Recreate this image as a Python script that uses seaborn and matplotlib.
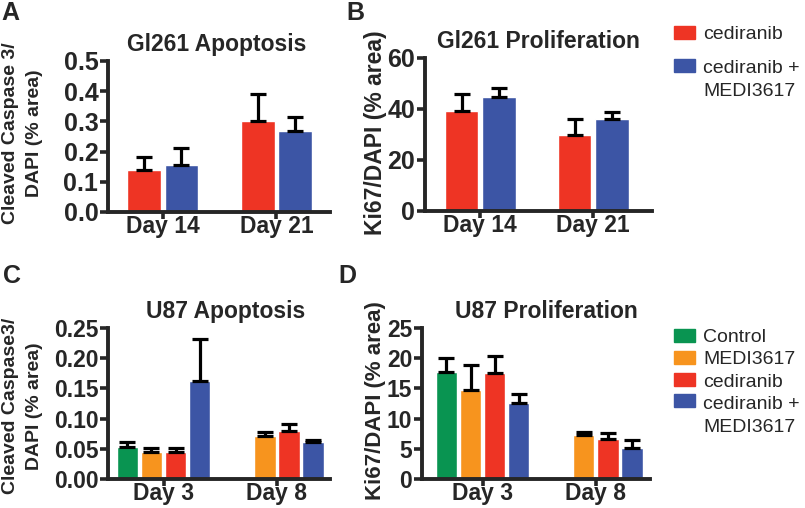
import numpy as np
import pandas as pd
import matplotlib
matplotlib.use('Agg')
import matplotlib.pyplot as plt
import seaborn as sns
from matplotlib.patches import Patch

# ---- data ----
gl_days = ['Day 14', 'Day 21']
gl_groups = ['cediranib', 'cediranib +\nMEDI3617']
gl_apop_mean = [[0.14, 0.30], [0.155, 0.268]]
gl_apop_err = [[0.042, 0.092], [0.058, 0.047]]
gl_prolif_mean = [[39.2, 29.8], [44.7, 36.0]]
gl_prolif_err = [[6.7, 6.2], [3.5, 2.8]]

u87_days = ['Day 3', 'Day 8']
u87_groups = ['Control', 'MEDI3617', 'cediranib', 'cediranib +\nMEDI3617']
# Control has no Day 8 measurement
u87_apop_mean = [[0.053, None], [0.045, 0.0706], [0.045, 0.080], [0.162, 0.0613]]
u87_apop_err = [[0.008, None], [0.006, 0.0075], [0.007, 0.0105], [0.070, 0.0025]]
u87_prolif_mean = [[17.7, None], [14.7, 7.3], [17.6, 6.6], [12.6, 5.2]]
u87_prolif_err = [[2.3, None], [4.1, 0.55], [2.8, 0.95], [1.5, 1.3]]

palette_gl = ['#EE3424', '#3C55A5']
palette_u87 = ['#099451', '#F7941E', '#EE3424', '#3C55A5']

FONT = 'Liberation Sans'


def make_frame(days, groups, means, errs):
    rows = []
    for g, m_row, e_row in zip(groups, means, errs):
        for d, m, e in zip(days, m_row, e_row):
            if m is None:
                continue
            rows.append({'day': d, 'group': g, 'value': m, 'err': e})
    return pd.DataFrame(rows)


def draw_panel(ax, df, days, groups, palette, width, capsize, xlim, ylim, yticks, yfmt,
               title, title_x, ylabel, label_size, label_xy, tick_size):
    sns.barplot(data=df, x='day', y='value', hue='group', order=days,
                hue_order=groups, palette=palette, saturation=1,
                width=width, gap=0.1, legend=False, ax=ax, zorder=2)
    # upper-only error bars on each bar
    for level, cont in zip(groups, ax.containers):
        for bar in cont:
            cx = bar.get_x() + bar.get_width() / 2
            day = days[int(round(cx))]
            row = df[(df.day == day) & (df.group == level)]
            if row.empty:
                continue
            ax.errorbar(cx, row.value.iloc[0], yerr=[[0], [row.err.iloc[0]]],
                        fmt='none', ecolor='black', elinewidth=2.3,
                        capsize=capsize, capthick=2.3, zorder=3)
    ax.set_ylim(*ylim)
    ax.set_yticks(yticks)
    ax.set_yticklabels([yfmt.format(t) for t in yticks])
    ax.set_xlim(*xlim)
    ax.set_xlabel('')
    ax.set_ylabel(ylabel, fontsize=label_size, fontweight='bold', linespacing=1.55)
    ax.yaxis.label.set_va('center')
    ax.yaxis.set_label_coords(*label_xy)
    ax.set_title(title, fontsize=16.5, fontweight='bold', pad=7, x=title_x)
    sns.despine(ax=ax)
    for s in ['left', 'bottom']:
        ax.spines[s].set_linewidth(2.8)
        ax.spines[s].set_zorder(4)
    ax.tick_params(axis='y', length=6, width=2.6, pad=1, labelsize=tick_size)
    ax.tick_params(axis='x', length=5, width=2.6, pad=-3, labelsize=16.5)
    for lab in ax.get_xticklabels() + ax.get_yticklabels():
        lab.set_fontweight('bold')


sns.set_style('ticks')
plt.rcParams['font.family'] = [FONT, 'DejaVu Sans']

W, H = 805, 508
fig = plt.figure(figsize=(W / 100, H / 100), dpi=100)


def axes_px(left, right, top, bottom):
    return fig.add_axes([left / W, 1 - bottom / H, (right - left) / W, (bottom - top) / H])


axA = axes_px(108, 330, 61, 212)
axB = axes_px(425, 652, 58, 211)
axC = axes_px(108, 330, 328, 479)
axD = axes_px(422, 650, 328, 479)

dfA = make_frame(gl_days, gl_groups, gl_apop_mean, gl_apop_err)
dfB = make_frame(gl_days, gl_groups, gl_prolif_mean, gl_prolif_err)
dfC = make_frame(u87_days, u87_groups, u87_apop_mean, u87_apop_err)
dfD = make_frame(u87_days, u87_groups, u87_prolif_mean, u87_prolif_err)

draw_panel(axA, dfA, gl_days, gl_groups, palette_gl, 0.66, 6, (-0.48, 1.47), (0, 0.5),
           [0.0, 0.1, 0.2, 0.3, 0.4, 0.5], '{:.1f}', 'Gl261 Apoptosis', 0.49,
           'Cleaved Caspase 3/\nDAPI (% area)', 14, (-0.385, 0.52), 18)
draw_panel(axB, dfB, gl_days, gl_groups, palette_gl, 0.66, 6, (-0.49, 1.52), (0, 60),
           [0, 20, 40, 60], '{:.0f}', 'Gl261 Proliferation', 0.5,
           'Ki67/DAPI (% area)', 16.5, (-0.216, 0.513), 18)
draw_panel(axC, dfC, u87_days, u87_groups, palette_u87, 0.85, 5.5, (-0.49, 1.47), (0, 0.25),
           [0.0, 0.05, 0.10, 0.15, 0.20, 0.25], '{:.2f}', 'U87 Apoptosis', 0.53,
           'Cleaved Caspase3/\nDAPI (% area)', 14, (-0.385, 0.483), 16.5)
draw_panel(axD, dfD, u87_days, u87_groups, palette_u87, 0.85, 5.5, (-0.535, 1.48), (0, 25),
           [0, 5, 10, 15, 20, 25], '{:.0f}', 'U87 Proliferation', 0.545,
           'Ki67/DAPI (% area)', 16, (-0.202, 0.517), 16.5)

# panel letters
for letter, x, y in [('A', 1, 20), ('B', 346, 20), ('C', 3, 283), ('D', 338, 283)]:
    fig.text(x / W, 1 - y / H, letter, fontsize=18, fontweight='bold', va='baseline')


def add_legend(colors, labels, top_px, spacing):
    handles = [Patch(color=c) for c in colors]
    leg = fig.legend(handles, labels, loc='upper left',
                     bbox_to_anchor=(674 / W, 1 - top_px / H),
                     frameon=False, fontsize=14, handlelength=1.1, handleheight=0.65,
                     handletextpad=0.4, labelspacing=spacing, borderpad=0, borderaxespad=0)
    # keep the swatch beside the first line of a wrapped label
    for patch, txt in zip(leg.get_patches(), leg.get_texts()):
        txt.set_linespacing(1.5)
        if '\n' in txt.get_text():
            patch.set_y(patch.get_y() + 10.5)
    return leg


add_legend(palette_gl, gl_groups, 26, 0.85)
add_legend(palette_u87, u87_groups, 329, 0.25)

fig.savefig('out.png', dpi=100)
